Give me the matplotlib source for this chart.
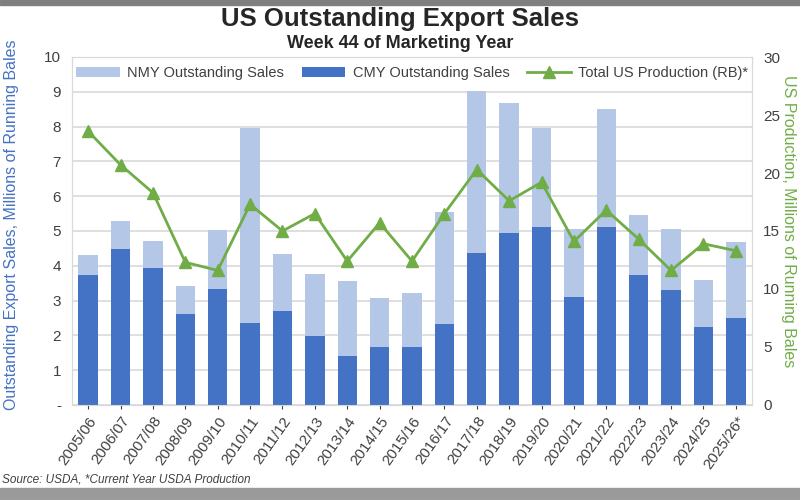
import matplotlib.pyplot as plt
import numpy as np
from matplotlib.patches import Rectangle

plt.rcParams['font.family'] = ['Liberation Sans', 'DejaVu Sans']

years = ['2005/06', '2006/07', '2007/08', '2008/09', '2009/10', '2010/11', '2011/12',
         '2012/13', '2013/14', '2014/15', '2015/16', '2016/17', '2017/18', '2018/19',
         '2019/20', '2020/21', '2021/22', '2022/23', '2023/24', '2024/25', '2025/26*']

# total outstanding sales (top of light bar) and current marketing year part
total_sales = [4.31, 5.30, 4.71, 3.41, 5.03, 7.95, 4.34, 3.76, 3.57, 3.07, 3.23,
               5.56, 9.03, 8.67, 7.95, 5.05, 8.51, 5.45, 5.05, 3.59, 4.68]
cmy_sales = [3.74, 4.48, 3.93, 2.61, 3.34, 2.37, 2.71, 1.98, 1.41, 1.68, 1.66,
             2.32, 4.38, 4.95, 5.12, 3.09, 5.12, 3.74, 3.30, 2.25, 2.49]
production = [23.6, 20.7, 18.3, 12.3, 11.6, 17.3, 15.0, 16.5, 12.4, 15.7, 12.4,
              16.5, 20.3, 17.6, 19.2, 14.1, 16.8, 14.3, 11.6, 13.9, 13.3]

nmy_sales = [t - c for t, c in zip(total_sales, cmy_sales)]

LIGHT = '#b4c7e7'
DARK = '#4472c4'
GREEN = '#70ad47'

fig = plt.figure(figsize=(8, 5), dpi=100)
ax = fig.add_axes([0.09, 0.19, 0.85, 0.696])
ax2 = ax.twinx()

x = np.arange(len(years))
ax.bar(x, cmy_sales, width=0.6, color=DARK, label='CMY Outstanding Sales', zorder=3)
ax.bar(x, nmy_sales, width=0.6, bottom=cmy_sales, color=LIGHT,
       label='NMY Outstanding Sales', zorder=3)
ax2.plot(x, production, color=GREEN, lw=2, marker='^', ms=8,
         label='Total US Production (RB)*', zorder=4)

ax.set_xlim(-0.5, len(years) - 0.5)
ax.set_ylim(0, 10)
ax2.set_ylim(0, 30)
ax.set_yticks(range(11))
ax.set_yticklabels(['-'] + [str(i) for i in range(1, 11)])
ax2.set_yticks(range(0, 31, 5))
ax.set_xticks(x)
ax.set_xticklabels(years, rotation=55, ha='right', rotation_mode='anchor', fontsize=8.5)

ax.grid(axis='y', color='#d9d9d9', lw=1.2, zorder=0)
ax.set_axisbelow(True)
for a in (ax, ax2):
    for s in a.spines.values():
        s.set_color('#d9d9d9')
    a.tick_params(colors='#404040', labelsize=11, length=3)
    a.tick_params(axis='y', length=0, pad=8)

# axis titles placed on the figure, like the Excel original
fig.text(0.014, 0.55, 'Outstanding Export Sales, Millions of Running Bales',
         rotation=90, ha='center', va='center', color=DARK, fontsize=11.5)
fig.text(0.986, 0.558, 'US Production, Millions of Running Bales',
         rotation=270, ha='center', va='center', color=GREEN, fontsize=11.5)

h1, l1 = ax.get_legend_handles_labels()
h2, l2 = ax2.get_legend_handles_labels()
ax.legend([h1[1], h1[0], h2[0]], [l1[1], l1[0], l2[0]], loc='upper center',
          ncol=3, frameon=False, fontsize=10.5, bbox_to_anchor=(0.5, 1.012),
          columnspacing=1.2, handlelength=3, handletextpad=0.5,
          labelcolor='#404040')

fig.text(0.5, 0.962, 'US Outstanding Export Sales', ha='center', va='center',
         fontsize=18.5, fontweight='bold', color='#262626')
fig.text(0.5, 0.913, 'Week 44 of Marketing Year', ha='center', va='center',
         fontsize=13, fontweight='bold', color='#262626')
fig.text(0.002, 0.04, 'Source: USDA, *Current Year USDA Production', ha='left',
         va='center', fontsize=8.5, style='italic', color='#404040')

# grey frame bands of the screenshot
fig.patches.append(Rectangle((0, 0.99), 1, 0.01, transform=fig.transFigure,
                             color='#7f7f7f', zorder=0))
fig.patches.append(Rectangle((0, 0), 1, 0.024, transform=fig.transFigure,
                             color='#9a9a9a', zorder=0))

fig.savefig('out.png', dpi=100)
